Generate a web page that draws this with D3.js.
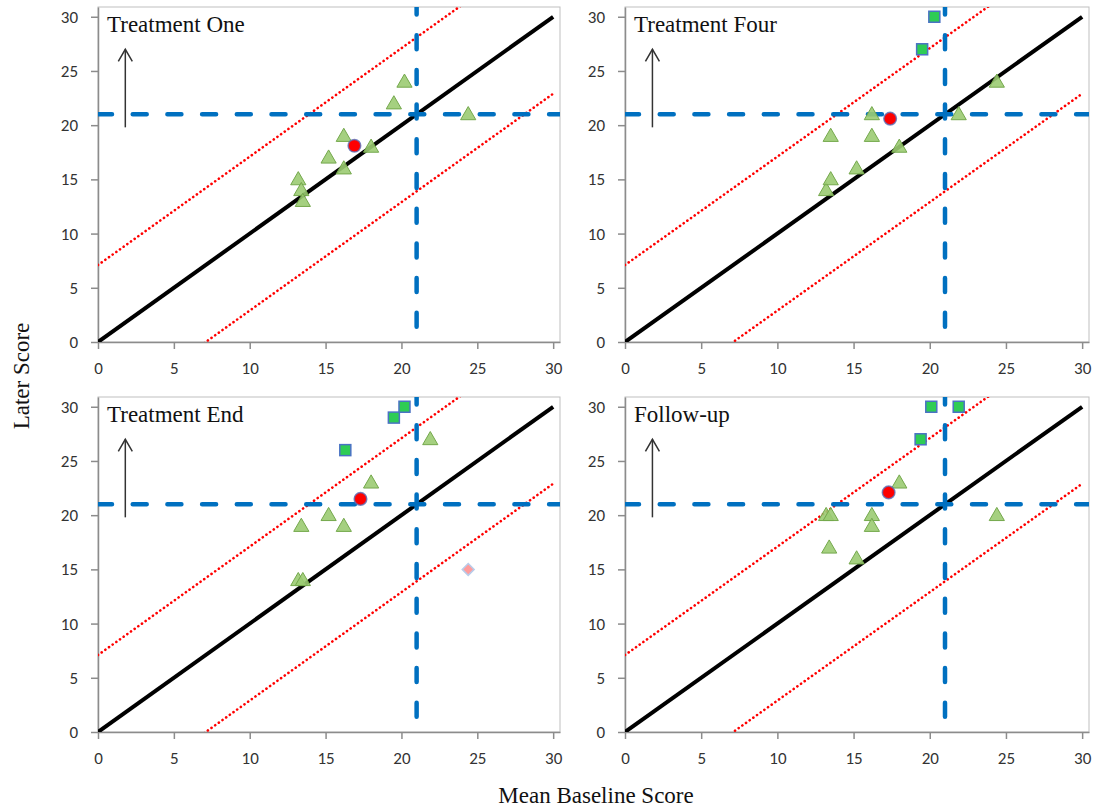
<!DOCTYPE html>
<html>
<head>
<meta charset="utf-8">
<script src="https://cdn.jsdelivr.net/npm/d3@7"></script>
<style>
  html, body { margin: 0; padding: 0; background: #fff; }
  svg { display: block; }
  .tick text { font-family: Carlito, "Liberation Sans Narrow", "DejaVu Sans Condensed", "Open Sans", sans-serif; font-size: 17px; fill: #333; }
</style>
</head>
<body>
<svg id="chart" width="1097" height="809"></svg>
<script>
// ---------- data ----------
const panelNames = ["Treatment One", "Treatment Four", "Treatment End", "Follow-up"];
const tickValues = [0, 5, 10, 15, 20, 25, 30];
const cutoff = 21;          // clinical cut-off (blue dashed)
const rciBand = 7.1;        // reliable change band (red dotted)
const arrowX = 1.8, arrowFrom = 19.8, arrowTo = 27.0;

// [mean baseline, later score]
const triOne    = [[13.2,15],[13.4,14],[13.5,13],[15.2,17],[16.2,16],[16.2,19],[18,18],[19.5,22],[20.2,24],[24.4,21]];
const sqOne     = [];
const diaOne    = [];
const meanOne   = [[16.9,18.1]];

const triFour   = [[13.2,14],[13.5,15],[13.5,19],[15.2,16],[16.2,19],[16.2,21],[18,18],[21.9,21],[24.4,24]];
const sqFour    = [[19.5,27],[20.3,30]];
const diaFour   = [];
const meanFour  = [[17.4,20.6]];

const triEnd    = [[13.2,14],[13.5,14],[13.4,19],[15.2,20],[16.2,19],[18,23],[21.9,27]];
const sqEnd     = [[16.3,26],[19.5,29],[20.2,30]];
const diaEnd    = [[24.4,15]];
const meanEnd   = [[17.3,21.5]];

const triFollow = [[13.2,20],[13.5,20],[13.4,17],[15.2,16],[16.2,20],[16.2,19],[18,23],[24.4,20]];
const sqFollow  = [[19.4,27],[20.1,30],[21.9,30]];
const diaFollow = [];
const meanFollow= [[17.3,22.1]];

const panelData = [
  {tri: triOne, sq: sqOne, dia: diaOne, mean: meanOne},
  {tri: triFour, sq: sqFour, dia: diaFour, mean: meanFour},
  {tri: triEnd, sq: sqEnd, dia: diaEnd, mean: meanEnd},
  {tri: triFollow, sq: sqFollow, dia: diaFollow, mean: meanFollow}
];

// ---------- layout ----------
const xMax = 30.45, yMax = 30.9;
const colX = [[98, 560], [625, 1089]];
const rowY = [[342, 7], [732, 397]];

const svg = d3.select("#chart");
const serif = "'Liberation Serif', 'Times New Roman', serif";

panelNames.forEach((name, i) => {
  const col = i % 2, row = Math.floor(i / 2);
  const x = d3.scaleLinear().domain([0, xMax]).range(colX[col]);
  const y = d3.scaleLinear().domain([0, yMax]).range(rowY[row]);
  const g = svg.append("g");
  const clipId = "clip" + i;
  svg.append("clipPath").attr("id", clipId).append("rect")
    .attr("x", x(0)).attr("y", y(yMax)).attr("width", x(xMax) - x(0)).attr("height", y(0) - y(yMax));

  // frame
  g.append("rect")
    .attr("x", x(0)).attr("y", y(yMax)).attr("width", x(xMax) - x(0)).attr("height", y(0) - y(yMax))
    .attr("fill", "none").attr("stroke", "#BFBFBF").attr("stroke-width", 1);

  // axes
  const ax = g.append("g").attr("transform", `translate(0,${y(0)})`)
    .call(d3.axisBottom(x).tickValues(tickValues).tickFormat(d3.format("d")).tickSize(7).tickSizeOuter(0).tickPadding(13));
  const ay = g.append("g").attr("transform", `translate(${x(0)},0)`)
    .call(d3.axisLeft(y).tickValues(tickValues).tickFormat(d3.format("d")).tickSize(7).tickSizeOuter(0).tickPadding(13));
  [ax, ay].forEach(a => {
    a.select(".domain").attr("stroke", "#8C8C8C").attr("stroke-width", 1.5);
    a.selectAll(".tick line").attr("stroke", "#8C8C8C").attr("stroke-width", 1.5);
  });

  const lines = g.append("g").attr("clip-path", `url(#${clipId})`);
  const line = d3.line().x(d => x(d[0])).y(d => y(d[1]));

  // reliable change band
  [rciBand, -rciBand].forEach(off => {
    lines.append("path")
      .attr("d", line([[0, off], [30, 30 + off]]))
      .attr("fill", "none").attr("stroke", "#FF0000").attr("stroke-width", 2.6)
      .attr("stroke-linecap", "round").attr("stroke-dasharray", "0.1,4.4");
  });
  // identity line
  lines.append("path")
    .attr("d", line([[0, 0], [30, 30]]))
    .attr("fill", "none").attr("stroke", "#000").attr("stroke-width", 4);
  // cut-off lines
  lines.append("path")
    .attr("d", line([[0, cutoff], [xMax, cutoff]]))
    .attr("fill", "none").attr("stroke", "#0070C0").attr("stroke-width", 4.5)
    .attr("stroke-linecap", "round").attr("stroke-dasharray", "14,20.7");
  lines.append("path")
    .attr("d", line([[cutoff, yMax + 0.6], [cutoff, 0]]))
    .attr("fill", "none").attr("stroke", "#0070C0").attr("stroke-width", 4.5)
    .attr("stroke-linecap", "round").attr("stroke-dasharray", "14,20.7");

  // arrow
  g.append("line")
    .attr("x1", x(arrowX)).attr("x2", x(arrowX)).attr("y1", y(arrowFrom)).attr("y2", y(arrowTo))
    .attr("stroke", "#333").attr("stroke-width", 1.5);
  g.append("path")
    .attr("d", `M${x(arrowX) - 7},${y(arrowTo) + 12} L${x(arrowX)},${y(arrowTo)} L${x(arrowX) + 7},${y(arrowTo) + 12}`)
    .attr("fill", "none").attr("stroke", "#333").attr("stroke-width", 1.5);

  // title
  g.append("text").attr("x", x(0) + 9).attr("y", y(yMax) + 25)
    .attr("font-family", serif).attr("font-size", 23).attr("fill", "#111").text(name);

  const d = panelData[i];
  const tri = d3.symbol().type(d3.symbolTriangle).size(100);
  g.selectAll(".tri").data(d.tri).join("path").attr("class", "tri")
    .attr("d", tri).attr("transform", p => `translate(${x(p[0])},${y(p[1]) + 1})`)
    .attr("fill", "#9BCB72").attr("fill-opacity", 0.9).attr("stroke", "#74A84C").attr("stroke-width", 1);
  g.selectAll(".sq").data(d.sq).join("rect").attr("class", "sq")
    .attr("x", p => x(p[0]) - 5.5).attr("y", p => y(p[1]) - 5.5).attr("width", 11).attr("height", 11)
    .attr("fill", "#2ECC55").attr("stroke", "#4A72C4").attr("stroke-width", 1.5);
  const dia = d3.symbol().type(d3.symbolDiamond2).size(90);
  g.selectAll(".dia").data(d.dia).join("path").attr("class", "dia")
    .attr("d", dia).attr("transform", p => `translate(${x(p[0])},${y(p[1])})`)
    .attr("fill", "#FF9C9C").attr("stroke", "#B8CCEA").attr("stroke-width", 1.5);
  g.selectAll(".mean").data(d.mean).join("circle").attr("class", "mean")
    .attr("cx", p => x(p[0])).attr("cy", p => y(p[1])).attr("r", 6.3)
    .attr("fill", "#FF0000").attr("stroke", "#5B6FB8").attr("stroke-opacity", 0.8).attr("stroke-width", 1.5);
});

// axis titles
svg.append("text")
  .attr("transform", "translate(29,376) rotate(-90)")
  .attr("text-anchor", "middle").attr("font-family", serif).attr("font-size", 23).attr("fill", "#111")
  .text("Later Score");
svg.append("text")
  .attr("x", 596).attr("y", 803)
  .attr("text-anchor", "middle").attr("font-family", serif).attr("font-size", 23).attr("fill", "#111")
  .text("Mean Baseline Score");
</script>
</body>
</html>
